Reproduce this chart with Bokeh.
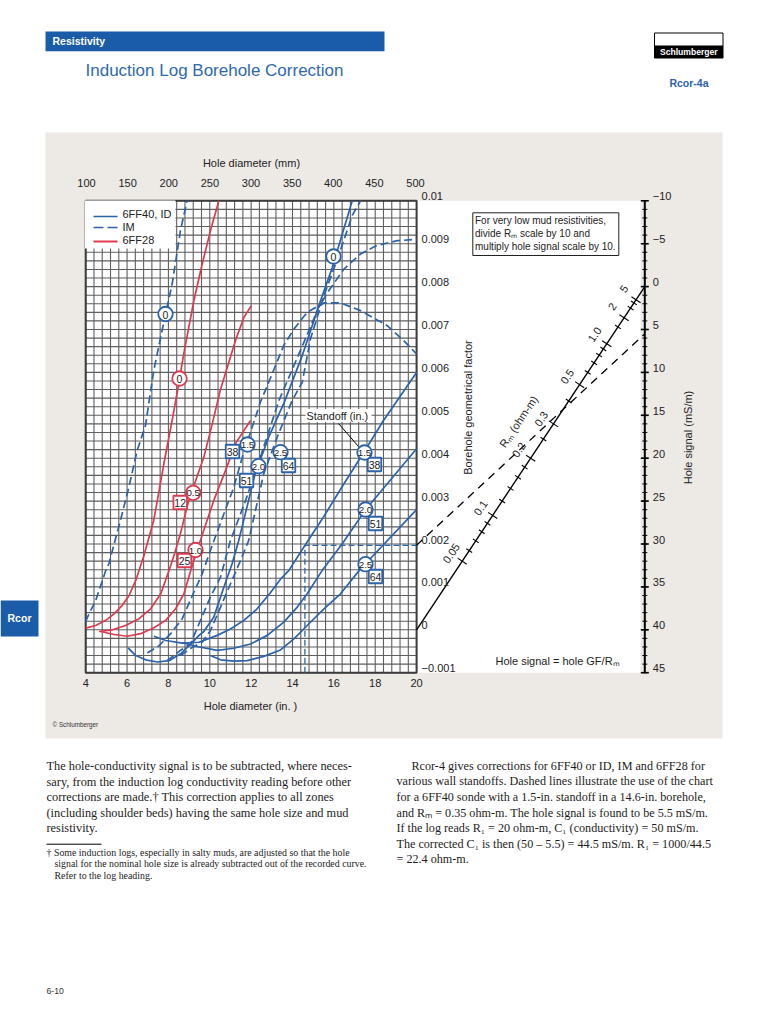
import numpy as np
from bokeh.plotting import figure
from bokeh.models import Range1d, LinearAxis, FixedTicker
from bokeh.core.properties import value
from bokeh.embed import file_html
from bokeh.resources import INLINE

# ---------- data (hole diameter in inches, geometrical factor in units of 0.001) ----------
im0_x = [4, 4.08, 4.48, 4.97, 5.12, 5.68, 6.09, 6.49, 6.89, 7.29, 7.86, 8.18, 8.58, 8.9]
im0_g = [0.19, 0.29, 0.68, 1.38, 1.54, 2.55, 3.33, 4.18, 4.76, 6.04, 7.36, 8.06, 9.3, 10]
im15_x = [6.98, 7.55, 8.11, 8.67, 9.16, 9.63, 10.03, 10.68, 11.16, 11.57, 12.45, 12.78, 13.18, 13.58, 14.07, 14.71, 15.52, 16.32, 17.29, 18.58, 19.38, 20]
im15_g = [-0.54, -0.37, -0.09, 0.26, 0.8, 1.3, 1.85, 2.7, 3.32, 4.02, 5.31, 5.69, 6.16, 6.63, 7.01, 7.4, 7.62, 7.62, 7.44, 7.09, 6.74, 6.43]
im20_x = [7.94, 8.58, 9.07, 9.55, 10.03, 10.52, 11.0, 11.73, 12.5, 13.34, 14.07, 14.55, 15.27, 15.76, 16.49, 17.29, 18.09, 19.06, 20]
im20_g = [-0.72, -0.48, -0.33, 0.22, 0.76, 1.23, 2.08, 3.01, 4.1, 5.34, 6.16, 6.7, 7.52, 7.91, 8.41, 8.76, 8.96, 9.07, 9.1]
im25_x = [8.58, 9.15, 9.63, 10.03, 10.52, 11, 11.49, 11.88, 12.61, 13.26, 13.98, 14.47, 14.87, 15.52, 16.17, 16.89, 17.29]
im25_g = [-0.6, -0.41, -0.29, -0.02, 0.53, 1.07, 1.62, 2.08, 3.64, 4.49, 5.34, 5.77, 6.78, 7.79, 8.64, 9.66, 10]
ff40_x = [6.05, 6.42, 6.9, 7.47, 8.03, 8.59, 9.0, 9.48, 9.71, 10.19, 10.68, 11.08, 11.4, 12.21, 12.85, 13.6, 14.47, 15.27, 15.92, 16.89]
ff40_g = [-0.42, -0.6, -0.7, -0.75, -0.72, -0.56, -0.37, -0.13, -0.04, 0.29, 0.99, 1.54, 2.08, 3.67, 4.49, 5.3, 6.39, 7.55, 8.44, 10]
ff15_x = [7.3, 7.87, 8.67, 9.48, 10.36, 11.0, 11.65, 12.29, 12.94, 13.42, 13.82, 14.55, 15.5, 16.48, 17.45, 18.4, 20]
ff15_g = [-0.15, -0.25, -0.31, -0.29, -0.13, 0.02, 0.22, 0.49, 0.87, 1.18, 1.38, 1.93, 2.63, 3.4, 4.14, 4.88, 6.0]
ff20_x = [8.67, 9.39, 10.36, 11.16, 11.97, 12.78, 13.58, 14.23, 14.71, 15.43, 16.4, 17.53, 20]
ff20_g = [-0.3, -0.39, -0.48, -0.43, -0.33, -0.13, 0.18, 0.53, 0.84, 1.38, 2.0, 2.8, 4.22]
ff25_x = [10.03, 10.52, 11.16, 11.81, 12.61, 13.42, 14.07, 14.71, 15.52, 16.32, 17.29, 17.53, 20]
ff25_g = [-0.6, -0.7, -0.73, -0.72, -0.62, -0.47, -0.21, 0.1, 0.49, 0.84, 1.42, 1.54, 2.8]
r0_x = [4, 4.48, 4.97, 5.37, 5.77, 6.1, 6.42, 6.58, 6.81, 7.29, 7.78, 8.18, 8.5, 8.74, 9.23, 9.63, 10.03, 10.44]
r0_g = [0.04, 0.1, 0.22, 0.37, 0.57, 0.8, 1.15, 1.38, 1.72, 2.55, 3.87, 4.88, 5.73, 6.43, 7.67, 8.52, 9.3, 10]
r05_x = [4.64, 5.29, 5.93, 6.58, 7.14, 7.63, 8.03, 8.3, 8.58, 8.98, 9.71, 10.12, 10.5, 10.84, 11.24, 11.65, 12]
r05_g = [-0.04, 0, 0.1, 0.26, 0.49, 0.84, 1.38, 1.78, 2.24, 3.01, 4.02, 4.8, 5.57, 6.11, 6.74, 7.28, 7.55]
r10_x = [4.73, 5.37, 6.01, 6.66, 7.3, 7.87, 8.35, 8.75, 9.08, 9.31, 9.71, 10.19, 10.76, 11.24, 11.97]
r10_g = [-0.04, -0.11, -0.15, -0.09, 0.05, 0.22, 0.49, 0.84, 1.38, 1.73, 2.32, 3.01, 3.71, 4.34, 4.88]

mm_ticks = [100, 150, 200, 250, 300, 350, 400, 450, 500]
in_ticks = [4, 6, 8, 10, 12, 14, 16, 18, 20]
gf_ticks = [0.01, 0.009, 0.008, 0.007, 0.006, 0.005, 0.004, 0.003, 0.002, 0.001, 0, -0.001]
gf_labels = ["0.01", "0.009", "0.008", "0.007", "0.006", "0.005", "0.004", "0.003", "0.002", "0.001", "0", "\u22120.001"]
sig_ticks = [-10, -5, 0, 5, 10, 15, 20, 25, 30, 35, 40, 45]
sig_labels = ["\u221210", "\u22125", "0", "5", "10", "15", "20", "25", "30", "35", "40", "45"]
rm_ticks = [0.05, 0.06, 0.07, 0.08, 0.09, 0.1, 0.12, 0.14, 0.16, 0.18, 0.2, 0.25, 0.3, 0.4, 0.5, 0.6, 0.7, 0.8, 0.9, 1.0, 1.5, 2, 3, 4, 5]
rm_major = [0.05, 0.1, 0.2, 0.3, 0.5, 1.0, 2, 5]
rm_labels = ["0.05", "0.1", "0.2", "0.3", "0.5", "1.0", "2", "5"]
example_d = 14.6
example_gf = 1.97
example_sig = 5.5

BLUE = "#2b62a9"
RED = "#dd3a50"
BAR = "#1b5ca9"
SAND = "#edeae6"
SANS = "Liberation Sans"
SERIF = "Liberation Serif"

# ---------- layout: pixels of the chart box in the photographed picture ----------
PAGE_L, PAGE_R, PAGE_T, PAGE_B = 0, 752, 0, 1008
X4, PX_IN = 85.2, 20.68
Y0, PX_G = 629.3, 42900.0
HOLE_PX = 644.3


def xd(px):
    return 4 + (px - X4) / PX_IN


def yd(py):
    return (Y0 - py) / PX_G


HOLE_X = xd(HOLE_PX)

p = figure(width=752, height=1008, toolbar_location=None, output_backend="svg",
           x_range=Range1d(xd(PAGE_L), xd(PAGE_R)), y_range=Range1d(yd(PAGE_B), yd(PAGE_T)),
           x_axis_location=None, y_axis_location=None, min_border=0,
           outline_line_color=None, background_fill_color="white", border_fill_color="white")
p.grid.visible = False

p.extra_x_ranges["px"] = Range1d(PAGE_L, PAGE_R)
p.extra_y_ranges["px"] = Range1d(PAGE_B, PAGE_T)
# top scale: 100 mm sits at 86 px, 500 mm at 415 px
mm_scale = (415.0 - 86.0) / 400.0
p.extra_x_ranges["mm"] = Range1d(100 + (PAGE_L - 86) / mm_scale, 100 + (PAGE_R - 86) / mm_scale)


# the signal scale: 40 mS/m at GF 0, 0 mS/m at GF 0.008
def sd(g):
    return 40 - 5000 * g


p.extra_y_ranges["sig"] = Range1d(sd(yd(PAGE_B)), sd(yd(PAGE_T)))
# label-only scales nudged up, as the printed tick labels sit above their ticks
NUDGE = 4.5 / PX_G
p.extra_y_ranges["gf_lab"] = Range1d(yd(PAGE_B) - NUDGE, yd(PAGE_T) - NUDGE)
p.extra_y_ranges["sig_lab"] = Range1d(sd(yd(PAGE_B) - NUDGE), sd(yd(PAGE_T) - NUDGE))


def box(l, t, r, b, fill, line=None, lw=1, level="image"):
    p.quad(left=[l], right=[r], top=[t], bottom=[b], x_range_name="px", y_range_name="px",
           fill_color=fill, line_color=line, line_width=lw, level=level)


def txt(x, y, s, size=11, color="#222222", align="left", font=SANS, style="normal", angle=0, base="middle", level="glyph"):
    p.text(x=[x], y=[y], text=[s], x_range_name="px", y_range_name="px", text_font=value(font),
           text_font_size=f"{size}px", text_color=color, text_align=align, text_baseline=base,
           text_font_style=style, angle=angle, angle_units="deg", level=level)


# page furniture
box(45, 31, 384, 50.7, BAR)
txt(52, 40.8, "Resistivity", 10.5, "white", style="bold")
txt(85, 70, "Induction Log Borehole Correction", 17, "#2f69ad")
box(654, 32.5, 722.5, 57.5, "white", "black", 1)
box(654, 45, 722.5, 57.5, "black")
txt(688.3, 51.3, "Schlumberger", 8.6, "white", "center", style="bold")
txt(688.5, 82.5, "Rcor-4a", 10.5, BLUE, "center", style="bold")
box(45, 132, 722, 738, SAND)
box(0, 600, 38, 636, BAR)
txt(19, 617, "Rcor", 10.5, "white", "center", style="bold")
txt(52, 724, "\u00a9 Schlumberger", 6.3, "#333333")
txt(46, 990, "6-10", 8.7, "#333333")

# white chart box and grid
p.quad(left=[4], right=[xd(640)], top=[0.01], bottom=[-0.001], fill_color="white", line_color=None, level="image")
grid_x = np.arange(0, 41) * 0.4 + 4
grid_y = np.arange(0, 56) * 0.0002 - 0.001
p.segment(grid_x, [-0.001] * len(grid_x), grid_x, [0.01] * len(grid_x), line_color="#5e5e5e", line_width=1.1, level="underlay")
p.segment([4] * len(grid_y), grid_y, [20] * len(grid_y), grid_y, line_color="#5e5e5e", line_width=1.1, level="underlay")
p.quad(left=[4], right=[20], top=[0.01], bottom=[-0.001], fill_color=None, line_color="#3c3c3c", line_width=2)

# legend
box(84.5, 200, 175, 248, "white", level="glyph")

# curves
dash = "8 4"
for xs, gs in [(im0_x, im0_g), (im15_x, im15_g), (im20_x, im20_g), (im25_x, im25_g)]:
    p.line(xs, [g / 1000 for g in gs], line_color=BLUE, line_width=1.7, line_dash=dash)
for xs, gs in [(ff40_x, ff40_g), (ff15_x, ff15_g), (ff20_x, ff20_g), (ff25_x, ff25_g)]:
    p.line(xs, [g / 1000 for g in gs], line_color=BLUE, line_width=1.7)
for xs, gs in [(r0_x, r0_g), (r05_x, r05_g), (r10_x, r10_g)]:
    p.line(xs, [g / 1000 for g in gs], line_color=RED, line_width=1.7)

# worked example
p.line([example_d, example_d, 20], [-0.001, example_gf / 1000, example_gf / 1000], line_color=BLUE, line_width=1.3, line_dash="6 3")

# legend entries
p.line([93, 117], [216, 216], x_range_name="px", y_range_name="px", line_color=BLUE, line_width=1.3)
p.line([93, 117], [227, 227], x_range_name="px", y_range_name="px", line_color=BLUE, line_width=1.3, line_dash="10 4")
p.line([93, 117], [241, 241], x_range_name="px", y_range_name="px", line_color=RED, line_width=2.2)
txt(122, 213.5, "6FF40, ID")
txt(122, 226.5, "IM")
txt(122, 239.5, "6FF28")

# axes
lab = dict(axis_line_color=None, major_tick_line_color=None, minor_tick_line_color=None,
           major_label_text_font=SANS, major_label_text_font_size="11px", major_label_text_color="#222222")

ax_top = LinearAxis(x_range_name="mm", fixed_location=0.01, ticker=FixedTicker(ticks=mm_ticks),
                    major_label_standoff=8, **lab)
p.add_layout(ax_top, "above")
ax_bot = LinearAxis(fixed_location=-0.001, ticker=FixedTicker(ticks=in_ticks), major_label_standoff=0, **lab)
p.add_layout(ax_bot, "below")
ax_gf = LinearAxis(y_range_name="gf_lab", fixed_location=20, ticker=FixedTicker(ticks=gf_ticks),
                   major_label_overrides=dict(zip(gf_ticks, gf_labels)), major_label_standoff=-1, **lab)
p.add_layout(ax_gf, "right")
ax_sl = LinearAxis(y_range_name="sig_lab", fixed_location=HOLE_X, ticker=FixedTicker(ticks=sig_ticks),
                   major_label_overrides=dict(zip(sig_ticks, sig_labels)), major_label_standoff=2, **lab)
p.add_layout(ax_sl, "right")

# the hole signal scale itself: spine and ticks on its own range
sig_minor = list(range(-10, 46))
p.line([HOLE_X, HOLE_X], [-10, 45], y_range_name="sig", line_color="black", line_width=2)
p.segment([HOLE_X - 2.5 / PX_IN] * len(sig_minor), sig_minor, [HOLE_X + 2.5 / PX_IN] * len(sig_minor), sig_minor,
          y_range_name="sig", line_color="black", line_width=1)
p.segment([HOLE_X - 4 / PX_IN] * len(sig_ticks), sig_ticks, [HOLE_X + 4 / PX_IN] * len(sig_ticks), sig_ticks,
          y_range_name="sig", line_color="black", line_width=1.6)


# nomogram: hole signal = GF / Rm, so an Rm value sits at fraction Rm/(Rm+0.2) of the way across
def rm_u(r):
    return r / (r + 0.2)


def across(u, g_left, g_right):
    return 20 + (HOLE_X - 20) * u, g_left + (g_right - g_left) * u


p.line([20, HOLE_X], [0, 0.008], line_color="black", line_width=1.4)
p.line([20, HOLE_X], [example_gf / 1000, (40 - example_sig) / 5000], line_color="black", line_width=1.3, line_dash="8 6")
# tick direction on the page, perpendicular to the scale
dx_px, dy_px = 0.83, 0.55
x0s, y0s, x1s, y1s = [], [], [], []
for r in rm_ticks:
    cx, cy = across(rm_u(r), 0, 0.008)
    half = 5.5 if r in rm_major else 3.5
    x0s.append(cx - half * dx_px / PX_IN)
    x1s.append(cx + half * dx_px / PX_IN)
    y0s.append(cy + half * dy_px / PX_G)
    y1s.append(cy - half * dy_px / PX_G)
p.segment(x0s, y0s, x1s, y1s, line_color="black", line_width=1.1)
rm_lab_px = [(450.7, 552.7), (480, 507.3), (518.3, 449.3), (540.7, 418.3), (566.7, 376), (594, 334), (611.7, 306), (623.3, 288.3)]
for (lx, ly), s in zip(rm_lab_px, rm_labels):
    txt(lx, ly, s, 11, angle=56, align="center")
txt(518, 421, "R\u2098 (ohm-m)", 11, angle=56, align="center")

# axis titles and notes
txt(251, 162, "Hole diameter (mm)", 11, align="center")
txt(250, 705, "Hole diameter (in. )", 11, align="center")
txt(467, 407, "Borehole geometrical factor", 11, align="center", angle=90)
txt(687, 437, "Hole signal (mS/m)", 11, align="center", angle=90)
txt(495, 660.5, "Hole signal = hole GF/R\u2098", 11)
box(472.3, 212.3, 618.3, 255, "white", "#222222", 1, level="glyph")
txt(474.5, 219.5, "For very low mud resistivities,", 10)
txt(474.5, 232.5, "divide R\u2098 scale by 10 and", 10)
txt(474.5, 245.5, "multiply hole signal scale by 10.", 10)

# standoff callout
box(305, 408.5, 371, 421.5, "white", level="glyph")
txt(306, 415, "Standoff (in.)", 10.8)
p.line([338, 358], [423, 446], x_range_name="px", y_range_name="px", line_color="black", line_width=1)

# curve badges
circles = [(165, 313.5, "0", BLUE), (179, 378, "0", RED), (333, 256, "0", BLUE),
           (192.7, 492.3, "0.5", RED), (195, 549.5, "1.0", RED),
           (247, 444, "1.5", BLUE), (258, 465.7, "2.0", BLUE), (280, 451.7, "2.5", BLUE),
           (364, 452, "1.5", BLUE), (365, 509, "2.0", BLUE), (365, 563.7, "2.5", BLUE)]
squares = [(179.7, 502, "12", RED), (184, 560, "25", RED), (232, 451, "38", BLUE), (246, 480, "51", BLUE),
           (288, 465, "64", BLUE), (374, 464, "38", BLUE), (375, 523, "51", BLUE), (375, 576, "64", BLUE)]
for bx, by, s, c in squares:
    p.scatter([bx], [by], marker="square", size=13.5, x_range_name="px", y_range_name="px",
              fill_color="white", line_color=c, line_width=1.8)
    txt(bx, by + 0.5, s, 10.5, align="center")
for bx, by, s, c in circles:
    p.scatter([bx], [by], marker="circle", size=14.5, x_range_name="px", y_range_name="px",
              fill_color="white", line_color=c, line_width=1.8)
    txt(bx, by + 0.5, s, 9.8 if len(s) > 1 else 10.5, align="center")

# body text
left_col = [(46, 765, "The hole-conductivity signal is to be subtracted, where neces-"),
            (46, 781, "sary, from the induction log conductivity reading before other"),
            (46, 796.7, "corrections are made.\u2020 This correction applies to all zones"),
            (46, 812, "(including shoulder beds) having the same hole size and mud"),
            (46, 827, "resistivity.")]
right_col = [(411, 765, "Rcor-4 gives corrections for 6FF40 or ID, IM and 6FF28 for"),
             (396, 780.5, "various wall standoffs. Dashed lines illustrate the use of the chart"),
             (396, 796.3, "for a 6FF40 sonde with a 1.5-in. standoff in a 14.6-in. borehole,"),
             (396, 812, "and R\u2098 = 0.35 ohm-m. The hole signal is found to be 5.5 mS/m."),
             (396, 827.5, "If the log reads R\u2081 = 20 ohm-m, C\u2081 (conductivity) = 50 mS/m."),
             (396, 843, "The corrected C\u2081 is then (50 \u2013 5.5) = 44.5 mS/m. R\u2081 = 1000/44.5"),
             (396, 858.5, "= 22.4 ohm-m.")]
for lx, ly, s in left_col:
    txt(lx, ly, s, 12.35, "#1c1c1c", font=SERIF)
for lx, ly, s in right_col:
    txt(lx, ly, s, 12.15, "#1c1c1c", font=SERIF)
p.line([46, 101], [843.7, 843.7], x_range_name="px", y_range_name="px", line_color="black", line_width=1)
foot = [(46, 851.7, "\u2020 Some induction logs, especially in salty muds, are adjusted so that the hole"),
        (54, 863.2, "signal for the nominal hole size is already subtracted out of the recorded curve."),
        (54, 875, "Refer to the log heading.")]
for lx, ly, s in foot:
    txt(lx, ly, s, 9.9, "#1c1c1c", font=SERIF)

open("out.html", "w").write(file_html(p, INLINE))
